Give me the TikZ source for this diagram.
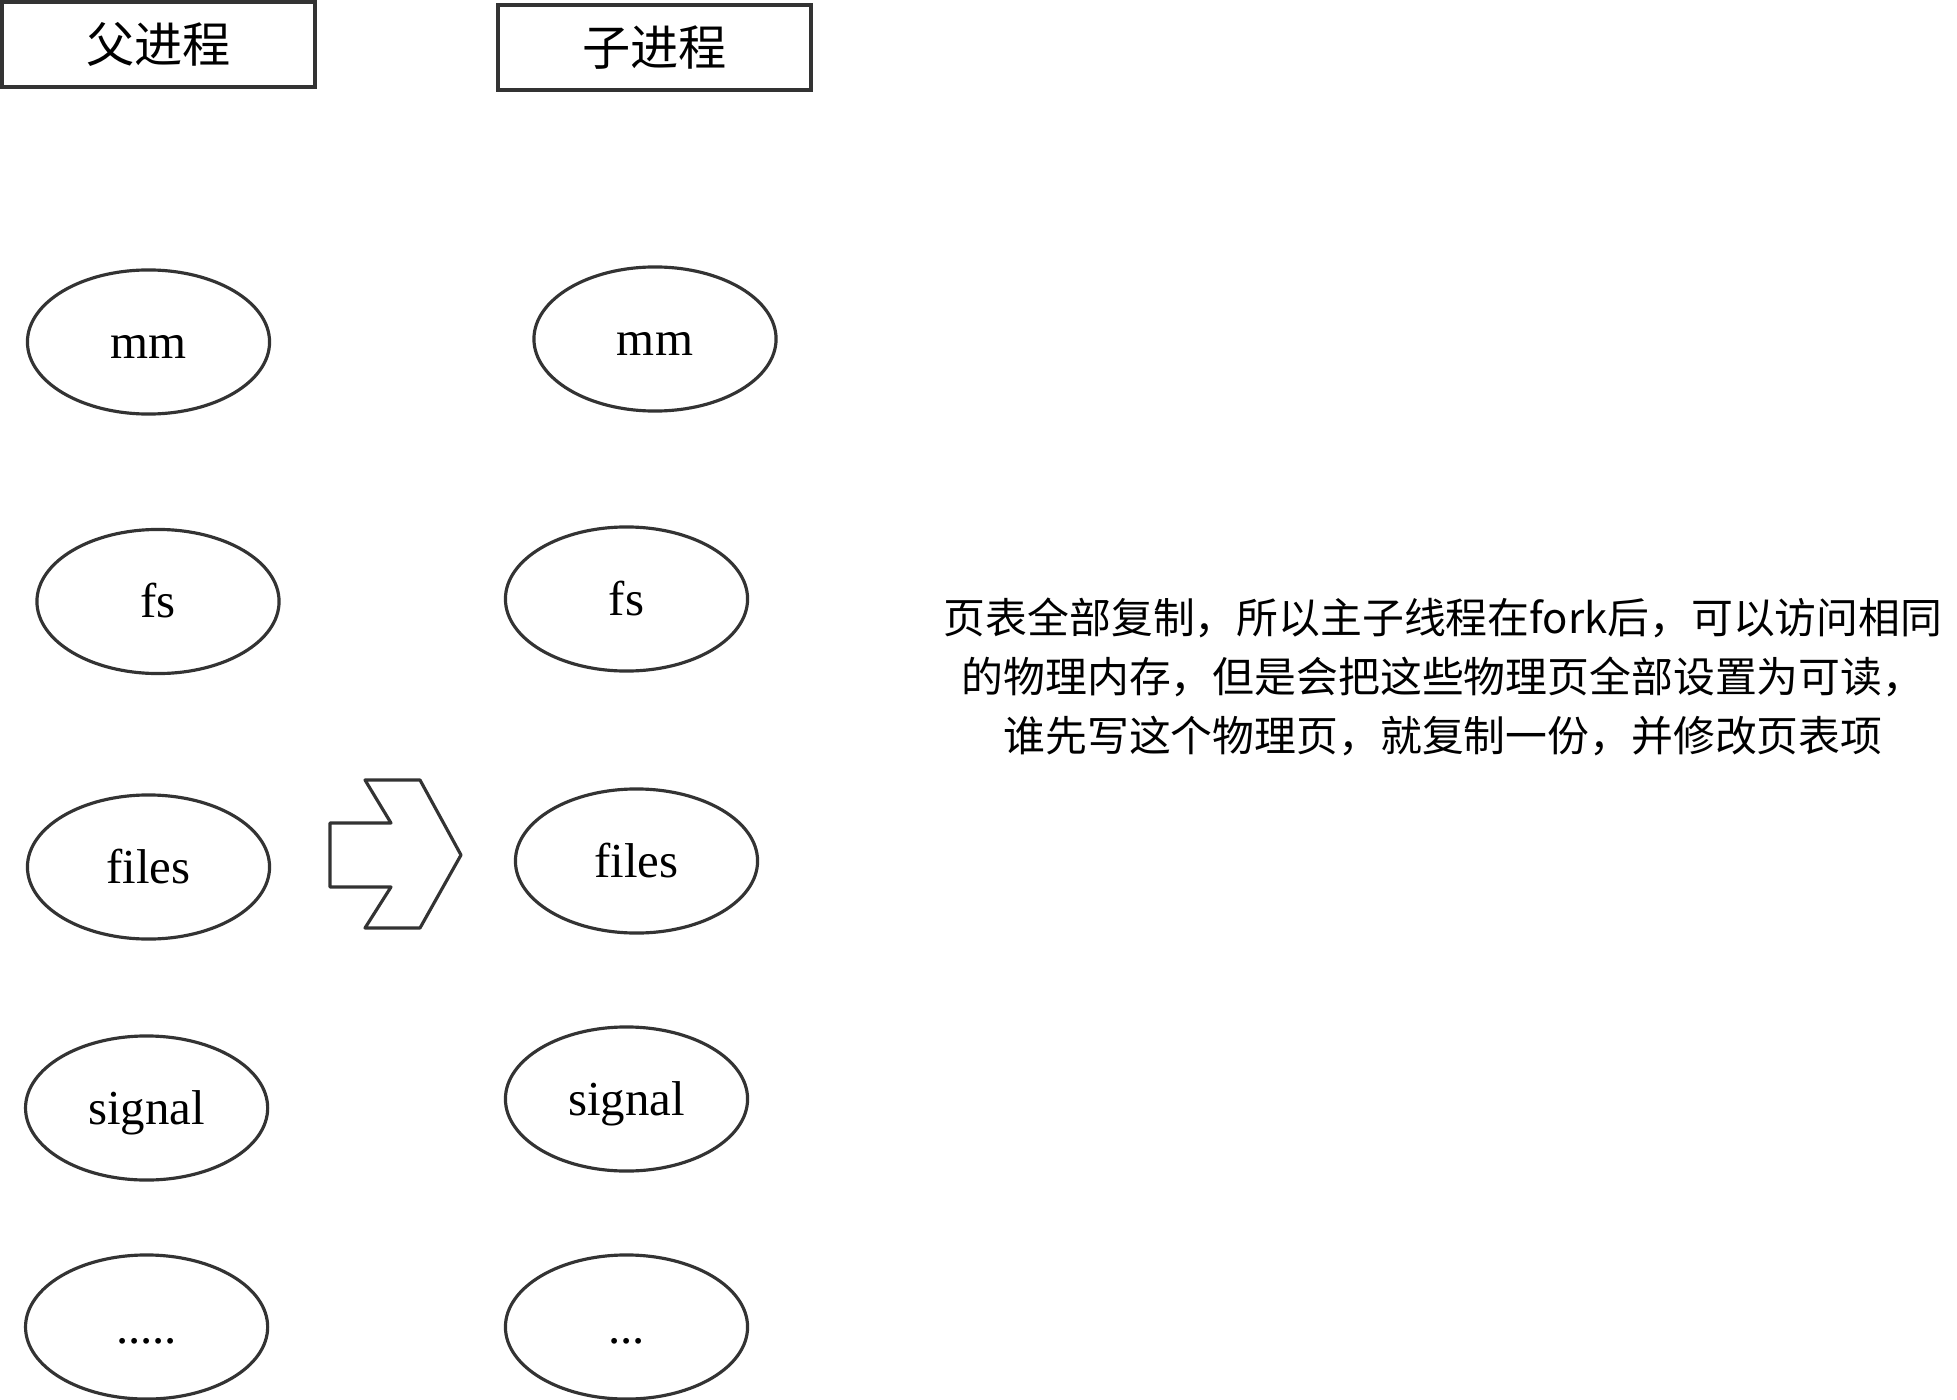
\documentclass[tikz,border=0pt]{standalone}
\usepackage{fontspec}
\setmainfont{Liberation Serif}
\newfontfamily\cjk{Noto Sans CJK SC}
\usetikzlibrary{shapes.geometric}
\definecolor{ink}{HTML}{333333}
\begin{document}
\begin{tikzpicture}[x=0.01cm,y=-0.01cm,
  procbox/.style={draw=ink,line width=1.2pt,minimum width=3.13cm,minimum height=0.85cm,
    inner sep=0pt,font=\cjk\fontsize{13.7}{16}\selectfont},
  part/.style={ellipse,draw=ink,line width=0.9pt,minimum width=2.42cm,minimum height=1.44cm,
    inner sep=0pt,text height=0.36cm,text depth=0.04cm,font=\fontsize{13.9}{16}\selectfont},
  note/.style={align=center,inner sep=0pt,font=\cjk\fontsize{11.9}{16.8}\selectfont}]
\useasboundingbox (0,0) rectangle (1957,1400);

% process headers
\node[procbox] (parent) at (158.5,44.5) {父进程};
\node[procbox] (child)  at (654.5,47.5) {子进程};

% parent resources
\node[part] (pmm)     at (148.5,342)  {mm};
\node[part] (pfs)     at (158,601.5)  {fs};
\node[part] (pfiles)  at (148.5,867)  {files};
\node[part] (psignal) at (146.6,1108) {signal};
\node[part] (pmore)   at (146.6,1327) {.....};

% child resources
\node[part] (cmm)     at (655,339)    {mm};
\node[part] (cfs)     at (626.5,599)  {fs};
\node[part] (cfiles)  at (636.5,861)  {files};
\node[part] (csignal) at (626.5,1099) {signal};
\node[part] (cmore)   at (626.5,1327) {...};

% copy arrow
\draw[ink,line width=0.9pt,line join=round]
  (365,780) -- (420,780) -- (461,855) -- (420,928) -- (365,928) -- (391,887)
  -- (330,887) -- (330,823) -- (391,823) -- cycle;

% explanation
\node[note] (explain) at (1443,677)
  {页表全部复制，所以主子线程在fork后，可以访问相同\\
   的物理内存，但是会把这些物理页全部设置为可读，\\
   谁先写这个物理页，就复制一份，并修改页表项};
\end{tikzpicture}
\end{document}
